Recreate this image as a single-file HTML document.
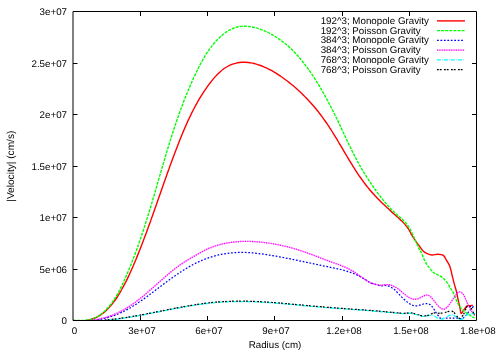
<!DOCTYPE html>
<html><head><meta charset="utf-8"><title>plot</title>
<style>
html,body{margin:0;padding:0;background:#fff;}
body{width:500px;height:350px;overflow:hidden;}
svg{display:block;will-change:transform;}
text{font-family:"Liberation Sans",sans-serif;font-size:9.75px;fill:#000;text-rendering:geometricPrecision;}
</style></head><body>
<svg width="500" height="350" viewBox="0 0 500 350">
<rect width="500" height="350" fill="#fff"/>
<defs><clipPath id="pc"><rect x="72.5" y="11" width="404.5" height="310"/></clipPath></defs>
<g fill="none" stroke-linejoin="round" clip-path="url(#pc)">
<path d="M73.00,320.50C73.50,320.56 74.98,320.79 75.98,320.88C76.97,320.97 77.97,321.02 78.97,321.04C79.97,321.05 80.97,321.03 81.97,320.98C82.97,320.92 83.97,320.82 84.96,320.69C85.95,320.56 86.94,320.39 87.91,320.18C88.89,319.97 89.86,319.73 90.82,319.44C91.78,319.16 92.73,318.84 93.66,318.48C94.59,318.12 95.52,317.72 96.42,317.29C97.31,316.85 98.20,316.37 99.06,315.87C99.92,315.36 100.76,314.81 101.58,314.24C102.40,313.66 103.19,313.06 103.97,312.42C104.74,311.79 105.50,311.13 106.23,310.45C106.96,309.77 107.67,309.07 108.37,308.35C109.06,307.63 109.74,306.89 110.39,306.13C111.05,305.38 111.69,304.61 112.31,303.83C112.93,303.04 113.54,302.25 114.13,301.44C114.73,300.64 115.30,299.82 115.87,298.99C116.43,298.17 116.99,297.34 117.53,296.50C118.07,295.66 118.60,294.81 119.12,293.95C119.65,293.10 120.16,292.24 120.66,291.38C121.17,290.51 121.66,289.65 122.15,288.77C122.64,287.90 123.12,287.02 123.59,286.14C124.07,285.26 124.53,284.37 124.99,283.49C125.45,282.60 125.90,281.70 126.35,280.81C126.79,279.91 127.23,279.01 127.67,278.11C128.10,277.21 128.53,276.31 128.95,275.40C129.37,274.49 129.79,273.58 130.20,272.67C130.62,271.76 131.02,270.85 131.43,269.93C131.83,269.02 132.23,268.10 132.63,267.19C133.03,266.27 133.43,265.35 133.82,264.43C134.21,263.51 134.60,262.59 134.99,261.67C135.38,260.74 135.76,259.82 136.14,258.90C136.53,257.97 136.91,257.05 137.28,256.12C137.66,255.19 138.04,254.27 138.41,253.34C138.78,252.41 139.15,251.48 139.52,250.55C139.89,249.62 140.25,248.69 140.62,247.76C140.98,246.83 141.35,245.90 141.71,244.96C142.07,244.03 142.42,243.10 142.78,242.16C143.14,241.23 143.49,240.29 143.85,239.36C144.20,238.42 144.55,237.48 144.90,236.55C145.25,235.61 145.60,234.67 145.95,233.73C146.29,232.80 146.64,231.86 146.99,230.92C147.33,229.98 147.67,229.04 148.02,228.10C148.36,227.16 148.70,226.22 149.04,225.28C149.38,224.34 149.72,223.40 150.06,222.46C150.39,221.51 150.73,220.57 151.07,219.63C151.40,218.69 151.74,217.75 152.08,216.80C152.41,215.86 152.74,214.92 153.08,213.98C153.41,213.03 153.74,212.09 154.08,211.15C154.41,210.20 154.74,209.26 155.07,208.32C155.40,207.37 155.74,206.43 156.07,205.48C156.40,204.54 156.73,203.60 157.06,202.65C157.39,201.71 157.72,200.76 158.05,199.82C158.38,198.87 158.71,197.93 159.04,196.99C159.37,196.04 159.70,195.10 160.03,194.15C160.36,193.21 160.69,192.26 161.02,191.32C161.35,190.38 161.68,189.43 162.01,188.49C162.34,187.54 162.67,186.60 163.00,185.66C163.33,184.71 163.66,183.77 163.99,182.82C164.33,181.88 164.66,180.94 164.99,179.99C165.33,179.05 165.66,178.11 165.99,177.17C166.33,176.22 166.66,175.28 167.00,174.34C167.34,173.40 167.67,172.45 168.01,171.51C168.35,170.57 168.69,169.63 169.03,168.69C169.37,167.75 169.71,166.81 170.05,165.87C170.39,164.93 170.73,163.99 171.08,163.05C171.42,162.11 171.77,161.17 172.11,160.23C172.46,159.29 172.81,158.36 173.16,157.42C173.50,156.48 173.86,155.55 174.21,154.61C174.56,153.67 174.91,152.74 175.27,151.80C175.62,150.87 175.98,149.93 176.34,149.00C176.70,148.06 177.06,147.13 177.42,146.20C177.78,145.27 178.14,144.33 178.51,143.40C178.88,142.47 179.24,141.54 179.61,140.61C179.98,139.68 180.35,138.75 180.73,137.83C181.10,136.90 181.48,135.97 181.86,135.05C182.23,134.12 182.62,133.20 183.00,132.27C183.39,131.35 183.77,130.43 184.16,129.51C184.56,128.59 184.95,127.67 185.35,126.75C185.75,125.83 186.15,124.92 186.55,124.00C186.96,123.09 187.37,122.17 187.78,121.26C188.20,120.35 188.62,119.45 189.04,118.54C189.47,117.63 189.89,116.73 190.33,115.83C190.76,114.93 191.20,114.03 191.64,113.13C192.09,112.23 192.54,111.34 192.99,110.45C193.45,109.56 193.91,108.67 194.37,107.79C194.84,106.90 195.31,106.02 195.79,105.14C196.27,104.27 196.76,103.39 197.25,102.52C197.74,101.65 198.24,100.78 198.75,99.92C199.25,99.06 199.76,98.20 200.28,97.34C200.80,96.49 201.33,95.64 201.87,94.79C202.40,93.95 202.94,93.10 203.49,92.27C204.04,91.43 204.60,90.60 205.16,89.78C205.73,88.95 206.30,88.13 206.88,87.32C207.46,86.50 208.05,85.69 208.64,84.89C209.24,84.09 209.85,83.29 210.46,82.50C211.07,81.71 211.69,80.92 212.32,80.15C212.95,79.37 213.59,78.60 214.25,77.85C214.90,77.09 215.57,76.34 216.25,75.61C216.93,74.88 217.63,74.16 218.34,73.46C219.06,72.76 219.79,72.08 220.54,71.42C221.30,70.76 222.07,70.12 222.86,69.52C223.66,68.91 224.47,68.33 225.31,67.78C226.15,67.24 227.01,66.72 227.89,66.25C228.77,65.77 229.67,65.34 230.59,64.94C231.50,64.55 232.44,64.19 233.39,63.88C234.34,63.56 235.31,63.29 236.28,63.06C237.25,62.83 238.24,62.65 239.23,62.51C240.22,62.37 241.22,62.28 242.21,62.24C243.21,62.19 244.22,62.19 245.21,62.23C246.21,62.27 247.21,62.35 248.21,62.46C249.20,62.57 250.19,62.73 251.17,62.91C252.16,63.09 253.13,63.30 254.10,63.54C255.07,63.78 256.04,64.05 257.00,64.34C257.95,64.63 258.90,64.95 259.85,65.28C260.79,65.62 261.72,65.97 262.65,66.35C263.58,66.72 264.50,67.12 265.41,67.53C266.32,67.94 267.22,68.37 268.12,68.82C269.01,69.26 269.90,69.72 270.78,70.20C271.66,70.67 272.53,71.17 273.40,71.67C274.26,72.17 275.12,72.69 275.97,73.21C276.82,73.74 277.66,74.28 278.50,74.83C279.34,75.37 280.17,75.93 280.99,76.50C281.82,77.07 282.63,77.64 283.45,78.23C284.26,78.81 285.07,79.40 285.87,80.00C286.67,80.60 287.47,81.20 288.26,81.81C289.05,82.43 289.83,83.05 290.61,83.68C291.39,84.30 292.16,84.94 292.93,85.58C293.70,86.22 294.46,86.87 295.22,87.52C295.97,88.18 296.72,88.84 297.47,89.51C298.21,90.18 298.95,90.85 299.68,91.54C300.41,92.22 301.14,92.91 301.86,93.60C302.58,94.29 303.29,95.00 304.00,95.70C304.71,96.41 305.41,97.12 306.10,97.84C306.80,98.56 307.49,99.28 308.17,100.01C308.86,100.74 309.53,101.48 310.21,102.22C310.88,102.96 311.54,103.71 312.20,104.46C312.86,105.21 313.51,105.97 314.16,106.74C314.81,107.50 315.45,108.27 316.08,109.04C316.72,109.81 317.34,110.59 317.97,111.37C318.59,112.16 319.21,112.95 319.82,113.74C320.43,114.53 321.03,115.33 321.63,116.13C322.22,116.93 322.82,117.74 323.40,118.55C323.99,119.36 324.57,120.18 325.14,121.00C325.71,121.82 326.28,122.64 326.84,123.47C327.41,124.29 327.96,125.13 328.51,125.96C329.07,126.79 329.61,127.63 330.16,128.47C330.70,129.31 331.24,130.15 331.77,131.00C332.31,131.84 332.84,132.69 333.37,133.54C333.89,134.39 334.42,135.24 334.94,136.10C335.46,136.95 335.98,137.81 336.50,138.66C337.01,139.52 337.53,140.38 338.04,141.24C338.55,142.09 339.06,142.95 339.57,143.81C340.08,144.68 340.59,145.54 341.10,146.40C341.61,147.26 342.12,148.12 342.62,148.98C343.13,149.85 343.64,150.71 344.15,151.57C344.65,152.43 345.16,153.29 345.67,154.15C346.18,155.02 346.69,155.88 347.20,156.74C347.71,157.60 348.23,158.45 348.74,159.31C349.26,160.17 349.77,161.03 350.29,161.88C350.81,162.73 351.33,163.59 351.86,164.44C352.39,165.29 352.91,166.14 353.45,166.99C353.98,167.83 354.51,168.68 355.06,169.52C355.60,170.36 356.14,171.20 356.69,172.04C357.24,172.87 357.79,173.71 358.35,174.53C358.91,175.36 359.47,176.19 360.04,177.01C360.61,177.83 361.19,178.65 361.77,179.47C362.35,180.28 362.94,181.09 363.53,181.89C364.13,182.70 364.73,183.50 365.34,184.29C365.95,185.09 366.56,185.87 367.19,186.66C367.81,187.44 368.44,188.22 369.08,188.99C369.72,189.76 370.36,190.52 371.02,191.28C371.67,192.03 372.33,192.78 373.00,193.53C373.67,194.27 374.35,195.01 375.03,195.74C375.71,196.47 376.40,197.19 377.10,197.91C377.79,198.63 378.49,199.34 379.20,200.05C379.91,200.76 380.62,201.47 381.33,202.17C382.05,202.87 382.77,203.56 383.49,204.25C384.21,204.94 384.94,205.63 385.67,206.32C386.40,207.00 387.13,207.68 387.86,208.36C388.60,209.04 389.33,209.72 390.07,210.39C390.81,211.07 391.55,211.74 392.29,212.41C393.03,213.08 393.78,213.75 394.52,214.42C395.26,215.09 396.01,215.75 396.75,216.43C397.49,217.10 398.24,217.76 398.97,218.44C399.71,219.12 400.44,219.81 401.15,220.50C401.87,221.20 402.58,221.91 403.27,222.63C403.96,223.36 404.63,224.10 405.28,224.86C405.93,225.62 406.56,226.40 407.16,227.20C407.76,228.00 408.33,228.82 408.86,229.67C409.39,230.51 409.89,231.38 410.35,232.27C410.81,233.16 410.59,233.35 411.60,235.00C412.61,236.65 415.00,240.20 416.40,242.20C417.80,244.20 418.90,245.53 420.00,247.00C421.10,248.47 421.80,249.90 423.00,251.00C424.20,252.10 425.70,252.93 427.20,253.60C428.70,254.27 430.20,254.90 432.00,255.00C433.80,255.10 436.10,254.13 438.00,254.20C439.90,254.27 442.00,254.40 443.40,255.40C444.80,256.40 445.33,258.40 446.40,260.20C447.47,262.00 448.90,263.90 449.80,266.20C450.70,268.50 451.07,271.10 451.80,274.00C452.53,276.90 453.40,280.60 454.20,283.60C455.00,286.60 456.07,289.87 456.60,292.00C457.13,294.13 456.83,293.70 457.40,296.40C457.97,299.10 459.37,305.33 460.00,308.20C460.63,311.07 460.58,313.27 461.20,313.60C461.82,313.93 462.77,311.47 463.70,310.20C464.63,308.93 465.83,306.77 466.80,306.00C467.77,305.23 468.48,305.68 469.50,305.60C470.52,305.52 472.33,305.52 472.90,305.50" stroke="#ff0000" stroke-width="1.4"/>
<path d="M73.00,320.50C73.50,320.49 75.01,320.45 76.01,320.44C77.01,320.42 78.02,320.44 79.02,320.43C80.02,320.43 81.03,320.43 82.03,320.40C83.03,320.38 84.04,320.35 85.04,320.27C86.04,320.20 87.04,320.11 88.03,319.95C89.02,319.80 90.01,319.62 90.98,319.36C91.95,319.11 92.91,318.79 93.84,318.42C94.77,318.04 95.67,317.60 96.55,317.13C97.44,316.65 98.29,316.12 99.13,315.56C99.96,315.01 100.77,314.40 101.55,313.78C102.34,313.16 103.10,312.51 103.85,311.83C104.59,311.16 105.32,310.47 106.02,309.75C106.73,309.04 107.41,308.31 108.08,307.56C108.75,306.81 109.40,306.04 110.03,305.26C110.66,304.48 111.27,303.68 111.86,302.88C112.46,302.07 113.03,301.24 113.59,300.41C114.15,299.58 114.70,298.74 115.23,297.88C115.76,297.03 116.27,296.17 116.78,295.30C117.28,294.44 117.77,293.56 118.25,292.68C118.73,291.80 119.19,290.91 119.65,290.01C120.11,289.12 120.56,288.22 121.00,287.32C121.44,286.42 121.87,285.52 122.30,284.61C122.73,283.70 123.15,282.79 123.56,281.88C123.98,280.96 124.39,280.05 124.80,279.13C125.21,278.22 125.62,277.30 126.02,276.38C126.42,275.46 126.82,274.54 127.21,273.62C127.61,272.69 128.00,271.77 128.39,270.84C128.78,269.92 129.16,268.99 129.55,268.06C129.93,267.14 130.31,266.21 130.68,265.28C131.06,264.35 131.43,263.41 131.80,262.48C132.17,261.55 132.53,260.61 132.90,259.68C133.26,258.74 133.62,257.81 133.98,256.87C134.34,255.93 134.69,254.99 135.04,254.05C135.39,253.11 135.74,252.17 136.09,251.23C136.44,250.29 136.78,249.35 137.12,248.40C137.46,247.46 137.80,246.51 138.14,245.57C138.47,244.62 138.81,243.68 139.14,242.73C139.47,241.78 139.80,240.83 140.12,239.88C140.45,238.94 140.77,237.99 141.10,237.04C141.42,236.09 141.74,235.13 142.06,234.18C142.37,233.23 142.69,232.28 143.00,231.33C143.32,230.37 143.63,229.42 143.94,228.46C144.25,227.51 144.56,226.55 144.86,225.60C145.17,224.64 145.48,223.69 145.78,222.73C146.08,221.77 146.38,220.82 146.68,219.86C146.98,218.90 147.28,217.94 147.58,216.99C147.88,216.03 148.17,215.07 148.47,214.11C148.76,213.15 149.05,212.19 149.35,211.23C149.64,210.27 149.93,209.31 150.22,208.35C150.51,207.39 150.80,206.43 151.08,205.47C151.37,204.50 151.66,203.54 151.94,202.58C152.23,201.62 152.51,200.66 152.80,199.69C153.08,198.73 153.36,197.77 153.65,196.81C153.93,195.84 154.21,194.88 154.49,193.92C154.77,192.95 155.06,191.99 155.34,191.03C155.62,190.06 155.90,189.10 156.18,188.14C156.46,187.17 156.74,186.21 157.02,185.24C157.30,184.28 157.57,183.32 157.85,182.35C158.13,181.39 158.41,180.43 158.69,179.46C158.97,178.50 159.25,177.53 159.53,176.57C159.81,175.61 160.09,174.64 160.37,173.68C160.64,172.71 160.92,171.75 161.20,170.79C161.49,169.82 161.77,168.86 162.05,167.90C162.33,166.93 162.61,165.97 162.89,165.01C163.17,164.04 163.46,163.08 163.74,162.12C164.02,161.16 164.31,160.19 164.59,159.23C164.88,158.27 165.16,157.31 165.45,156.35C165.73,155.38 166.02,154.42 166.31,153.46C166.60,152.50 166.89,151.54 167.18,150.58C167.47,149.62 167.76,148.66 168.05,147.70C168.35,146.74 168.64,145.78 168.93,144.82C169.23,143.86 169.53,142.90 169.83,141.94C170.12,140.99 170.42,140.03 170.72,139.07C171.03,138.11 171.33,137.16 171.63,136.20C171.94,135.25 172.24,134.29 172.55,133.33C172.86,132.38 173.17,131.43 173.48,130.47C173.79,129.52 174.10,128.56 174.42,127.61C174.74,126.66 175.05,125.71 175.37,124.76C175.69,123.80 176.01,122.85 176.34,121.90C176.66,120.95 176.99,120.01 177.31,119.06C177.64,118.11 177.97,117.16 178.31,116.21C178.64,115.27 178.97,114.32 179.31,113.38C179.65,112.43 179.99,111.49 180.33,110.54C180.68,109.60 181.02,108.66 181.37,107.72C181.72,106.78 182.07,105.84 182.42,104.90C182.78,103.96 183.13,103.02 183.49,102.08C183.85,101.15 184.21,100.21 184.58,99.28C184.95,98.34 185.32,97.41 185.69,96.48C186.06,95.55 186.43,94.62 186.81,93.69C187.19,92.76 187.57,91.83 187.96,90.90C188.34,89.98 188.73,89.05 189.13,88.13C189.52,87.20 189.91,86.28 190.31,85.36C190.71,84.44 191.12,83.52 191.52,82.61C191.93,81.69 192.34,80.77 192.76,79.86C193.17,78.95 193.59,78.03 194.01,77.12C194.44,76.21 194.86,75.30 195.29,74.40C195.73,73.49 196.16,72.59 196.60,71.69C197.04,70.78 197.48,69.88 197.93,68.99C198.38,68.09 198.83,67.19 199.29,66.30C199.75,65.41 200.21,64.52 200.68,63.63C201.16,62.75 201.63,61.86 202.12,60.99C202.61,60.11 203.10,59.23 203.60,58.37C204.11,57.50 204.62,56.64 205.14,55.78C205.67,54.92 206.20,54.07 206.75,53.23C207.29,52.39 207.85,51.55 208.42,50.73C208.99,49.90 209.57,49.08 210.16,48.27C210.75,47.46 211.36,46.66 211.98,45.88C212.60,45.09 213.23,44.31 213.88,43.54C214.52,42.77 215.18,42.01 215.86,41.27C216.53,40.53 217.22,39.80 217.92,39.08C218.63,38.37 219.35,37.67 220.08,36.98C220.82,36.30 221.57,35.64 222.34,34.99C223.11,34.35 223.90,33.73 224.70,33.13C225.51,32.53 226.33,31.96 227.18,31.42C228.02,30.88 228.89,30.36 229.77,29.89C230.65,29.41 231.56,28.97 232.48,28.58C233.40,28.18 234.34,27.82 235.30,27.52C236.25,27.22 237.23,26.97 238.21,26.77C239.19,26.57 240.19,26.43 241.19,26.34C242.19,26.24 243.19,26.20 244.20,26.20C245.20,26.19 246.20,26.24 247.20,26.32C248.20,26.40 249.20,26.52 250.19,26.67C251.18,26.82 252.17,27.01 253.15,27.22C254.13,27.43 255.11,27.68 256.07,27.94C257.04,28.21 258.00,28.51 258.95,28.82C259.90,29.13 260.85,29.47 261.79,29.83C262.73,30.18 263.66,30.56 264.58,30.95C265.50,31.35 266.42,31.76 267.33,32.19C268.23,32.62 269.13,33.07 270.02,33.53C270.91,33.99 271.79,34.48 272.66,34.97C273.53,35.47 274.40,35.98 275.25,36.51C276.10,37.04 276.95,37.58 277.78,38.14C278.62,38.70 279.44,39.27 280.26,39.85C281.07,40.44 281.88,41.04 282.67,41.65C283.47,42.26 284.25,42.88 285.03,43.52C285.81,44.15 286.58,44.80 287.33,45.46C288.09,46.12 288.84,46.79 289.58,47.46C290.32,48.14 291.05,48.83 291.77,49.53C292.48,50.23 293.20,50.94 293.90,51.66C294.60,52.38 295.29,53.10 295.97,53.84C296.66,54.57 297.33,55.32 298.00,56.07C298.66,56.82 299.32,57.58 299.97,58.34C300.62,59.11 301.26,59.88 301.89,60.66C302.53,61.43 303.15,62.22 303.77,63.01C304.39,63.80 305.00,64.60 305.60,65.40C306.21,66.20 306.80,67.01 307.39,67.82C307.99,68.63 308.57,69.44 309.15,70.26C309.73,71.08 310.30,71.91 310.87,72.74C311.43,73.56 312.00,74.39 312.55,75.23C313.11,76.06 313.66,76.90 314.21,77.74C314.75,78.59 315.29,79.43 315.83,80.28C316.37,81.13 316.90,81.98 317.43,82.83C317.95,83.69 318.47,84.54 318.99,85.40C319.51,86.26 320.02,87.12 320.53,87.99C321.04,88.85 321.55,89.72 322.05,90.59C322.55,91.46 323.04,92.33 323.54,93.21C324.03,94.08 324.52,94.96 325.00,95.84C325.49,96.71 325.97,97.59 326.45,98.48C326.93,99.36 327.40,100.24 327.87,101.13C328.35,102.01 328.81,102.90 329.28,103.79C329.74,104.68 330.21,105.57 330.67,106.46C331.13,107.35 331.58,108.25 332.04,109.14C332.49,110.04 332.94,110.93 333.39,111.83C333.84,112.73 334.29,113.63 334.73,114.53C335.18,115.43 335.62,116.33 336.06,117.23C336.50,118.13 336.94,119.03 337.38,119.94C337.81,120.84 338.25,121.74 338.68,122.65C339.11,123.55 339.55,124.46 339.98,125.37C340.41,126.27 340.84,127.18 341.27,128.09C341.70,128.99 342.12,129.90 342.55,130.81C342.98,131.72 343.40,132.63 343.83,133.53C344.25,134.44 344.68,135.35 345.10,136.26C345.53,137.17 345.96,138.08 346.38,138.99C346.81,139.89 347.24,140.80 347.67,141.71C348.09,142.62 348.52,143.52 348.96,144.43C349.39,145.34 349.82,146.24 350.26,147.14C350.69,148.05 351.13,148.95 351.58,149.85C352.02,150.75 352.46,151.65 352.91,152.55C353.36,153.45 353.81,154.34 354.27,155.24C354.72,156.13 355.18,157.02 355.65,157.91C356.11,158.80 356.58,159.69 357.05,160.57C357.53,161.46 358.01,162.34 358.49,163.22C358.98,164.10 359.47,164.97 359.96,165.85C360.46,166.72 360.96,167.59 361.46,168.45C361.97,169.32 362.48,170.18 363.00,171.04C363.52,171.90 364.04,172.76 364.57,173.61C365.09,174.47 365.62,175.32 366.16,176.17C366.70,177.02 367.24,177.86 367.78,178.70C368.33,179.54 368.88,180.38 369.44,181.22C369.99,182.06 370.55,182.89 371.11,183.72C371.68,184.55 372.25,185.38 372.82,186.20C373.39,187.02 373.97,187.85 374.55,188.66C375.13,189.48 375.71,190.30 376.30,191.11C376.89,191.92 377.48,192.73 378.08,193.54C378.68,194.34 379.28,195.15 379.89,195.94C380.50,196.74 381.12,197.53 381.74,198.32C382.36,199.11 382.99,199.89 383.63,200.67C384.26,201.44 384.91,202.21 385.56,202.97C386.21,203.74 386.87,204.49 387.54,205.24C388.21,205.99 388.88,206.73 389.57,207.46C390.26,208.19 390.95,208.92 391.66,209.63C392.36,210.34 393.08,211.05 393.81,211.74C394.53,212.44 395.27,213.12 396.01,213.79C396.76,214.46 397.51,215.12 398.27,215.78C399.02,216.45 399.78,217.10 400.53,217.77C401.28,218.44 402.03,219.11 402.75,219.80C403.48,220.49 404.19,221.20 404.88,221.93C405.56,222.67 406.22,223.42 406.84,224.21C407.46,225.00 408.04,225.82 408.59,226.66C409.14,227.50 409.65,228.36 410.14,229.24C410.63,230.11 411.09,231.01 411.53,231.91C411.98,232.81 412.39,233.72 412.81,234.64C413.22,235.55 413.30,235.84 414.00,237.40C414.70,238.96 416.10,242.00 417.00,244.00C417.90,246.00 418.70,248.00 419.40,249.40C420.10,250.80 420.30,250.50 421.20,252.40C422.10,254.30 423.50,258.30 424.80,260.80C426.10,263.30 427.60,265.50 429.00,267.40C430.40,269.30 431.70,270.93 433.20,272.20C434.70,273.47 436.40,274.07 438.00,275.00C439.60,275.93 441.30,276.57 442.80,277.80C444.30,279.03 445.70,280.63 447.00,282.40C448.30,284.17 449.62,286.82 450.60,288.40C451.58,289.98 452.05,290.18 452.90,291.90C453.75,293.62 454.67,296.42 455.70,298.70C456.73,300.98 457.85,303.63 459.10,305.60C460.35,307.57 461.85,309.20 463.20,310.50C464.55,311.80 465.73,312.38 467.20,313.40C468.67,314.42 470.77,315.87 472.00,316.60C473.23,317.33 474.17,317.60 474.60,317.80" stroke="#00ff00" stroke-width="1.4" stroke-dasharray="3 1.1"/>
<path d="M73.00,320.50C73.50,320.54 75.01,320.68 76.01,320.74C77.02,320.81 78.03,320.86 79.03,320.89C80.04,320.93 81.05,320.95 82.05,320.95C83.06,320.95 84.07,320.94 85.08,320.91C86.08,320.88 87.09,320.84 88.10,320.78C89.10,320.72 90.11,320.64 91.11,320.55C92.12,320.46 93.12,320.36 94.12,320.23C95.12,320.11 96.12,319.98 97.11,319.82C98.11,319.67 99.10,319.50 100.09,319.31C101.08,319.13 102.07,318.93 103.05,318.71C104.04,318.49 105.02,318.26 106.00,318.01C106.97,317.76 107.94,317.49 108.91,317.21C109.88,316.93 110.84,316.63 111.80,316.31C112.75,316.00 113.71,315.67 114.65,315.32C115.60,314.97 116.54,314.60 117.47,314.22C118.40,313.84 119.32,313.44 120.24,313.02C121.16,312.61 122.07,312.18 122.98,311.73C123.88,311.29 124.78,310.83 125.67,310.36C126.56,309.89 127.45,309.41 128.33,308.92C129.21,308.42 130.08,307.92 130.94,307.40C131.81,306.89 132.67,306.36 133.52,305.83C134.38,305.30 135.23,304.75 136.07,304.20C136.92,303.65 137.76,303.09 138.59,302.53C139.43,301.96 140.26,301.39 141.08,300.82C141.91,300.24 142.73,299.66 143.55,299.07C144.37,298.48 145.18,297.89 146.00,297.30C146.81,296.70 147.62,296.11 148.43,295.50C149.24,294.90 150.05,294.30 150.85,293.70C151.66,293.09 152.46,292.48 153.27,291.88C154.07,291.27 154.88,290.66 155.68,290.05C156.48,289.44 157.28,288.83 158.09,288.22C158.89,287.61 159.69,287.00 160.50,286.40C161.30,285.79 162.10,285.18 162.91,284.58C163.71,283.97 164.52,283.36 165.33,282.76C166.14,282.16 166.94,281.56 167.76,280.96C168.57,280.37 169.38,279.77 170.20,279.18C171.01,278.59 171.83,278.00 172.65,277.42C173.47,276.83 174.30,276.25 175.12,275.68C175.95,275.10 176.78,274.53 177.62,273.97C178.45,273.40 179.29,272.84 180.13,272.29C180.97,271.73 181.82,271.19 182.67,270.65C183.52,270.11 184.38,269.57 185.24,269.05C186.10,268.52 186.96,268.01 187.83,267.50C188.70,266.99 189.58,266.49 190.46,266.00C191.34,265.51 192.22,265.03 193.11,264.56C194.01,264.09 194.90,263.63 195.80,263.18C196.71,262.73 197.62,262.29 198.53,261.87C199.44,261.44 200.36,261.03 201.29,260.63C202.21,260.23 203.14,259.84 204.08,259.47C205.02,259.10 205.96,258.74 206.90,258.40C207.85,258.05 208.80,257.72 209.76,257.41C210.72,257.10 211.68,256.80 212.65,256.51C213.61,256.23 214.59,255.96 215.56,255.70C216.53,255.45 217.51,255.21 218.50,254.98C219.48,254.75 220.46,254.54 221.45,254.35C222.44,254.15 223.43,253.97 224.42,253.80C225.42,253.63 226.42,253.48 227.41,253.34C228.41,253.21 229.41,253.08 230.41,252.98C231.42,252.87 232.42,252.78 233.42,252.70C234.43,252.62 235.43,252.56 236.44,252.51C237.45,252.46 238.45,252.43 239.46,252.41C240.47,252.40 241.48,252.39 242.49,252.40C243.49,252.41 244.50,252.44 245.51,252.48C246.51,252.51 247.52,252.56 248.53,252.62C249.53,252.68 250.54,252.75 251.54,252.83C252.55,252.91 253.55,253.00 254.55,253.10C255.56,253.20 256.56,253.31 257.56,253.43C258.56,253.55 259.56,253.67 260.56,253.80C261.56,253.93 262.56,254.07 263.55,254.21C264.55,254.36 265.55,254.51 266.54,254.66C267.54,254.81 268.53,254.97 269.53,255.13C270.52,255.30 271.52,255.46 272.51,255.63C273.50,255.80 274.50,255.97 275.49,256.14C276.48,256.32 277.47,256.49 278.47,256.67C279.46,256.85 280.45,257.04 281.44,257.22C282.43,257.41 283.42,257.59 284.41,257.78C285.40,257.97 286.39,258.16 287.38,258.36C288.37,258.55 289.36,258.75 290.34,258.94C291.33,259.14 292.32,259.34 293.31,259.54C294.29,259.74 295.28,259.94 296.27,260.15C297.26,260.35 298.24,260.55 299.23,260.76C300.22,260.96 301.20,261.17 302.19,261.38C303.17,261.58 304.16,261.79 305.15,262.00C306.13,262.21 307.12,262.42 308.10,262.63C309.09,262.84 310.08,263.05 311.06,263.26C312.05,263.47 313.03,263.68 314.02,263.89C315.00,264.10 315.99,264.31 316.97,264.51C317.96,264.72 318.95,264.93 319.93,265.14C320.92,265.35 321.90,265.56 322.89,265.76C323.88,265.97 324.86,266.18 325.85,266.38C326.84,266.59 327.82,266.79 328.81,266.99C329.80,267.19 330.79,267.39 331.77,267.60C332.76,267.80 333.75,268.00 334.73,268.20C335.72,268.41 336.71,268.61 337.69,268.83C338.68,269.05 339.66,269.27 340.64,269.50C341.62,269.73 342.60,269.97 343.57,270.23C344.55,270.49 345.52,270.75 346.49,271.04C347.45,271.33 348.41,271.63 349.37,271.95C350.32,272.27 351.27,272.61 352.21,272.98C353.15,273.34 354.08,273.73 355.00,274.13C355.93,274.53 356.84,274.96 357.75,275.40C358.66,275.84 359.55,276.29 360.44,276.77C361.34,277.24 362.22,277.72 363.09,278.22C363.97,278.72 364.84,279.23 365.70,279.75C366.56,280.28 367.42,280.81 368.27,281.35C369.12,281.89 368.84,282.28 370.80,283.00C372.76,283.73 377.67,285.30 380.00,285.70C382.33,286.10 383.20,285.28 384.80,285.40C386.40,285.52 388.00,285.70 389.60,286.40C391.20,287.10 392.80,288.27 394.40,289.60C396.00,290.93 397.60,292.80 399.20,294.40C400.80,296.00 402.40,297.73 404.00,299.20C405.60,300.67 407.20,302.13 408.80,303.20C410.40,304.27 412.00,305.20 413.60,305.60C415.20,306.00 416.80,305.87 418.40,305.60C420.00,305.33 421.70,304.33 423.20,304.00C424.70,303.67 426.20,303.47 427.40,303.60C428.60,303.73 429.68,304.38 430.40,304.80C431.12,305.22 431.00,305.22 431.70,306.10C432.40,306.98 433.65,308.70 434.60,310.10C435.55,311.50 436.35,313.07 437.40,314.50C438.45,315.93 439.65,318.10 440.90,318.70C442.15,319.30 443.57,318.20 444.90,318.10C446.23,318.00 447.57,318.10 448.90,318.10C450.23,318.10 451.48,318.10 452.90,318.10C454.32,318.10 456.07,318.00 457.40,318.10C458.73,318.20 459.95,318.70 460.90,318.70C461.85,318.70 462.15,318.77 463.10,318.10C464.05,317.43 465.55,315.93 466.60,314.70C467.65,313.47 468.55,311.75 469.40,310.70C470.25,309.65 470.93,309.17 471.70,308.40C472.47,307.63 473.62,306.48 474.00,306.10" stroke="#0000ff" stroke-width="1.25" stroke-dasharray="1.75 1.7"/>
<path d="M73.00,320.50C73.50,320.54 75.01,320.68 76.01,320.74C77.02,320.80 78.02,320.85 79.03,320.88C80.04,320.91 81.05,320.92 82.05,320.92C83.06,320.91 84.07,320.89 85.07,320.85C86.08,320.81 87.09,320.75 88.09,320.67C89.10,320.60 90.10,320.51 91.10,320.40C92.10,320.29 93.10,320.16 94.10,320.01C95.10,319.87 96.09,319.70 97.08,319.52C98.07,319.34 99.06,319.15 100.04,318.93C101.03,318.71 102.01,318.48 102.98,318.23C103.96,317.98 104.93,317.71 105.90,317.43C106.86,317.14 107.82,316.84 108.78,316.51C109.73,316.19 110.68,315.85 111.63,315.50C112.57,315.14 113.50,314.77 114.43,314.38C115.36,313.99 116.28,313.58 117.19,313.15C118.11,312.73 119.01,312.28 119.91,311.82C120.81,311.37 121.70,310.89 122.58,310.41C123.46,309.92 124.33,309.42 125.20,308.90C126.07,308.39 126.93,307.86 127.78,307.33C128.63,306.79 129.48,306.24 130.31,305.68C131.15,305.12 131.98,304.55 132.81,303.97C133.63,303.40 134.45,302.81 135.26,302.21C136.08,301.62 136.88,301.01 137.68,300.40C138.48,299.79 139.28,299.17 140.07,298.55C140.86,297.92 141.65,297.29 142.43,296.66C143.21,296.02 143.99,295.38 144.76,294.74C145.54,294.09 146.31,293.44 147.07,292.79C147.84,292.14 148.60,291.48 149.36,290.82C150.13,290.16 150.88,289.50 151.64,288.83C152.40,288.17 153.15,287.50 153.91,286.83C154.66,286.16 155.41,285.49 156.17,284.82C156.92,284.15 157.67,283.48 158.42,282.81C159.18,282.14 159.93,281.47 160.68,280.80C161.43,280.14 162.19,279.47 162.94,278.80C163.70,278.13 164.46,277.47 165.22,276.81C165.97,276.15 166.74,275.48 167.50,274.83C168.26,274.17 169.03,273.52 169.80,272.87C170.57,272.22 171.35,271.58 172.13,270.94C172.91,270.30 173.69,269.67 174.49,269.05C175.28,268.43 176.07,267.81 176.88,267.20C177.68,266.60 178.50,266.00 179.32,265.42C180.14,264.83 180.97,264.26 181.80,263.70C182.64,263.14 183.49,262.59 184.33,262.05C185.18,261.51 186.04,260.98 186.90,260.45C187.76,259.92 188.62,259.41 189.49,258.89C190.35,258.38 191.22,257.87 192.09,257.36C192.96,256.85 193.84,256.35 194.71,255.84C195.58,255.34 196.45,254.83 197.33,254.33C198.20,253.83 199.08,253.33 199.96,252.84C200.84,252.36 201.72,251.87 202.61,251.40C203.50,250.93 204.40,250.47 205.30,250.02C206.21,249.58 207.12,249.15 208.04,248.74C208.96,248.33 209.89,247.94 210.82,247.57C211.76,247.20 212.70,246.84 213.65,246.51C214.60,246.17 215.56,245.86 216.52,245.56C217.48,245.26 218.45,244.98 219.42,244.71C220.40,244.45 221.37,244.20 222.35,243.97C223.33,243.74 224.32,243.53 225.31,243.33C226.30,243.13 227.29,242.95 228.28,242.79C229.27,242.62 230.27,242.47 231.27,242.34C232.27,242.20 233.27,242.09 234.27,241.98C235.27,241.88 236.28,241.78 237.28,241.71C238.28,241.63 239.29,241.57 240.30,241.52C241.30,241.47 242.31,241.43 243.32,241.41C244.32,241.38 245.33,241.37 246.34,241.37C247.35,241.37 248.35,241.38 249.36,241.41C250.37,241.43 251.37,241.46 252.38,241.51C253.39,241.55 254.39,241.61 255.40,241.68C256.40,241.74 257.41,241.82 258.41,241.90C259.42,241.99 260.42,242.09 261.42,242.19C262.42,242.30 263.42,242.41 264.42,242.53C265.42,242.66 266.42,242.79 267.42,242.93C268.42,243.07 269.41,243.22 270.41,243.37C271.40,243.53 272.40,243.69 273.39,243.86C274.38,244.03 275.38,244.21 276.37,244.40C277.36,244.59 278.34,244.78 279.33,244.99C280.32,245.19 281.30,245.40 282.29,245.62C283.27,245.84 284.25,246.06 285.23,246.30C286.21,246.53 287.19,246.77 288.17,247.02C289.14,247.27 290.12,247.53 291.09,247.79C292.06,248.05 293.03,248.33 294.00,248.60C294.97,248.88 295.93,249.17 296.90,249.46C297.86,249.75 298.82,250.05 299.78,250.36C300.74,250.66 301.70,250.98 302.66,251.30C303.61,251.62 304.56,251.94 305.52,252.28C306.47,252.61 307.41,252.95 308.36,253.29C309.31,253.64 310.25,253.99 311.20,254.34C312.14,254.70 313.08,255.06 314.02,255.42C314.96,255.78 315.90,256.14 316.84,256.50C317.78,256.87 318.72,257.23 319.66,257.60C320.60,257.96 321.54,258.33 322.48,258.69C323.42,259.05 324.36,259.41 325.30,259.77C326.24,260.13 327.18,260.48 328.13,260.83C329.07,261.18 330.02,261.53 330.97,261.87C331.91,262.21 332.86,262.55 333.81,262.88C334.76,263.22 335.71,263.56 336.66,263.90C337.61,264.24 338.56,264.58 339.50,264.94C340.44,265.29 341.38,265.65 342.32,266.03C343.25,266.40 344.18,266.79 345.11,267.19C346.03,267.60 346.95,268.01 347.85,268.46C348.76,268.90 349.65,269.36 350.54,269.84C351.42,270.33 352.29,270.84 353.15,271.37C354.00,271.90 354.84,272.45 355.68,273.01C356.52,273.57 357.34,274.15 358.17,274.73C358.99,275.31 359.81,275.90 360.63,276.48C361.46,277.06 362.27,277.65 363.10,278.22C363.93,278.79 364.76,279.37 365.60,279.92C366.45,280.47 367.30,281.01 368.16,281.53C369.03,282.04 368.83,282.39 370.80,283.00C372.77,283.61 377.67,284.90 380.00,285.20C382.33,285.50 383.20,284.87 384.80,284.80C386.40,284.73 388.00,284.50 389.60,284.80C391.20,285.10 392.80,285.80 394.40,286.60C396.00,287.40 397.60,288.40 399.20,289.60C400.80,290.80 402.40,292.50 404.00,293.80C405.60,295.10 407.20,296.50 408.80,297.40C410.40,298.30 412.00,299.00 413.60,299.20C415.20,299.40 416.80,299.10 418.40,298.60C420.00,298.10 421.70,296.80 423.20,296.20C424.70,295.60 426.20,294.93 427.40,295.00C428.60,295.07 429.40,295.78 430.40,296.60C431.40,297.42 432.32,298.60 433.40,299.90C434.48,301.20 435.75,303.07 436.90,304.40C438.05,305.73 439.17,307.10 440.30,307.90C441.43,308.70 442.57,309.30 443.70,309.20C444.83,309.10 445.95,308.38 447.10,307.30C448.25,306.22 449.45,304.32 450.60,302.70C451.75,301.08 452.95,299.12 454.00,297.60C455.05,296.08 455.92,294.55 456.90,293.60C457.88,292.65 458.87,291.82 459.90,291.90C460.93,291.98 462.18,292.97 463.10,294.10C464.02,295.23 464.67,297.15 465.40,298.70C466.13,300.25 466.80,301.95 467.50,303.40C468.20,304.85 468.85,306.00 469.60,307.40C470.35,308.80 471.20,310.50 472.00,311.80C472.80,313.10 474.00,314.63 474.40,315.20" stroke="#ff00ff" stroke-opacity="0.28" stroke-width="1.4"/>
<path d="M73.00,320.50C73.50,320.54 75.01,320.68 76.01,320.74C77.02,320.80 78.02,320.85 79.03,320.88C80.04,320.91 81.05,320.92 82.05,320.92C83.06,320.91 84.07,320.89 85.07,320.85C86.08,320.81 87.09,320.75 88.09,320.67C89.10,320.60 90.10,320.51 91.10,320.40C92.10,320.29 93.10,320.16 94.10,320.01C95.10,319.87 96.09,319.70 97.08,319.52C98.07,319.34 99.06,319.15 100.04,318.93C101.03,318.71 102.01,318.48 102.98,318.23C103.96,317.98 104.93,317.71 105.90,317.43C106.86,317.14 107.82,316.84 108.78,316.51C109.73,316.19 110.68,315.85 111.63,315.50C112.57,315.14 113.50,314.77 114.43,314.38C115.36,313.99 116.28,313.58 117.19,313.15C118.11,312.73 119.01,312.28 119.91,311.82C120.81,311.37 121.70,310.89 122.58,310.41C123.46,309.92 124.33,309.42 125.20,308.90C126.07,308.39 126.93,307.86 127.78,307.33C128.63,306.79 129.48,306.24 130.31,305.68C131.15,305.12 131.98,304.55 132.81,303.97C133.63,303.40 134.45,302.81 135.26,302.21C136.08,301.62 136.88,301.01 137.68,300.40C138.48,299.79 139.28,299.17 140.07,298.55C140.86,297.92 141.65,297.29 142.43,296.66C143.21,296.02 143.99,295.38 144.76,294.74C145.54,294.09 146.31,293.44 147.07,292.79C147.84,292.14 148.60,291.48 149.36,290.82C150.13,290.16 150.88,289.50 151.64,288.83C152.40,288.17 153.15,287.50 153.91,286.83C154.66,286.16 155.41,285.49 156.17,284.82C156.92,284.15 157.67,283.48 158.42,282.81C159.18,282.14 159.93,281.47 160.68,280.80C161.43,280.14 162.19,279.47 162.94,278.80C163.70,278.13 164.46,277.47 165.22,276.81C165.97,276.15 166.74,275.48 167.50,274.83C168.26,274.17 169.03,273.52 169.80,272.87C170.57,272.22 171.35,271.58 172.13,270.94C172.91,270.30 173.69,269.67 174.49,269.05C175.28,268.43 176.07,267.81 176.88,267.20C177.68,266.60 178.50,266.00 179.32,265.42C180.14,264.83 180.97,264.26 181.80,263.70C182.64,263.14 183.49,262.59 184.33,262.05C185.18,261.51 186.04,260.98 186.90,260.45C187.76,259.92 188.62,259.41 189.49,258.89C190.35,258.38 191.22,257.87 192.09,257.36C192.96,256.85 193.84,256.35 194.71,255.84C195.58,255.34 196.45,254.83 197.33,254.33C198.20,253.83 199.08,253.33 199.96,252.84C200.84,252.36 201.72,251.87 202.61,251.40C203.50,250.93 204.40,250.47 205.30,250.02C206.21,249.58 207.12,249.15 208.04,248.74C208.96,248.33 209.89,247.94 210.82,247.57C211.76,247.20 212.70,246.84 213.65,246.51C214.60,246.17 215.56,245.86 216.52,245.56C217.48,245.26 218.45,244.98 219.42,244.71C220.40,244.45 221.37,244.20 222.35,243.97C223.33,243.74 224.32,243.53 225.31,243.33C226.30,243.13 227.29,242.95 228.28,242.79C229.27,242.62 230.27,242.47 231.27,242.34C232.27,242.20 233.27,242.09 234.27,241.98C235.27,241.88 236.28,241.78 237.28,241.71C238.28,241.63 239.29,241.57 240.30,241.52C241.30,241.47 242.31,241.43 243.32,241.41C244.32,241.38 245.33,241.37 246.34,241.37C247.35,241.37 248.35,241.38 249.36,241.41C250.37,241.43 251.37,241.46 252.38,241.51C253.39,241.55 254.39,241.61 255.40,241.68C256.40,241.74 257.41,241.82 258.41,241.90C259.42,241.99 260.42,242.09 261.42,242.19C262.42,242.30 263.42,242.41 264.42,242.53C265.42,242.66 266.42,242.79 267.42,242.93C268.42,243.07 269.41,243.22 270.41,243.37C271.40,243.53 272.40,243.69 273.39,243.86C274.38,244.03 275.38,244.21 276.37,244.40C277.36,244.59 278.34,244.78 279.33,244.99C280.32,245.19 281.30,245.40 282.29,245.62C283.27,245.84 284.25,246.06 285.23,246.30C286.21,246.53 287.19,246.77 288.17,247.02C289.14,247.27 290.12,247.53 291.09,247.79C292.06,248.05 293.03,248.33 294.00,248.60C294.97,248.88 295.93,249.17 296.90,249.46C297.86,249.75 298.82,250.05 299.78,250.36C300.74,250.66 301.70,250.98 302.66,251.30C303.61,251.62 304.56,251.94 305.52,252.28C306.47,252.61 307.41,252.95 308.36,253.29C309.31,253.64 310.25,253.99 311.20,254.34C312.14,254.70 313.08,255.06 314.02,255.42C314.96,255.78 315.90,256.14 316.84,256.50C317.78,256.87 318.72,257.23 319.66,257.60C320.60,257.96 321.54,258.33 322.48,258.69C323.42,259.05 324.36,259.41 325.30,259.77C326.24,260.13 327.18,260.48 328.13,260.83C329.07,261.18 330.02,261.53 330.97,261.87C331.91,262.21 332.86,262.55 333.81,262.88C334.76,263.22 335.71,263.56 336.66,263.90C337.61,264.24 338.56,264.58 339.50,264.94C340.44,265.29 341.38,265.65 342.32,266.03C343.25,266.40 344.18,266.79 345.11,267.19C346.03,267.60 346.95,268.01 347.85,268.46C348.76,268.90 349.65,269.36 350.54,269.84C351.42,270.33 352.29,270.84 353.15,271.37C354.00,271.90 354.84,272.45 355.68,273.01C356.52,273.57 357.34,274.15 358.17,274.73C358.99,275.31 359.81,275.90 360.63,276.48C361.46,277.06 362.27,277.65 363.10,278.22C363.93,278.79 364.76,279.37 365.60,279.92C366.45,280.47 367.30,281.01 368.16,281.53C369.03,282.04 368.83,282.39 370.80,283.00C372.77,283.61 377.67,284.90 380.00,285.20C382.33,285.50 383.20,284.87 384.80,284.80C386.40,284.73 388.00,284.50 389.60,284.80C391.20,285.10 392.80,285.80 394.40,286.60C396.00,287.40 397.60,288.40 399.20,289.60C400.80,290.80 402.40,292.50 404.00,293.80C405.60,295.10 407.20,296.50 408.80,297.40C410.40,298.30 412.00,299.00 413.60,299.20C415.20,299.40 416.80,299.10 418.40,298.60C420.00,298.10 421.70,296.80 423.20,296.20C424.70,295.60 426.20,294.93 427.40,295.00C428.60,295.07 429.40,295.78 430.40,296.60C431.40,297.42 432.32,298.60 433.40,299.90C434.48,301.20 435.75,303.07 436.90,304.40C438.05,305.73 439.17,307.10 440.30,307.90C441.43,308.70 442.57,309.30 443.70,309.20C444.83,309.10 445.95,308.38 447.10,307.30C448.25,306.22 449.45,304.32 450.60,302.70C451.75,301.08 452.95,299.12 454.00,297.60C455.05,296.08 455.92,294.55 456.90,293.60C457.88,292.65 458.87,291.82 459.90,291.90C460.93,291.98 462.18,292.97 463.10,294.10C464.02,295.23 464.67,297.15 465.40,298.70C466.13,300.25 466.80,301.95 467.50,303.40C468.20,304.85 468.85,306.00 469.60,307.40C470.35,308.80 471.20,310.50 472.00,311.80C472.80,313.10 474.00,314.63 474.40,315.20" stroke="#ff00ff" stroke-width="1.3" stroke-dasharray="1.1 1.25"/>
<path d="M73.00,320.50C73.50,320.53 75.00,320.64 75.99,320.69C76.99,320.74 77.99,320.79 78.99,320.83C79.99,320.87 80.99,320.90 81.99,320.92C82.99,320.94 83.99,320.95 84.99,320.96C85.99,320.96 86.99,320.96 87.99,320.95C88.99,320.94 89.99,320.92 90.99,320.90C91.99,320.87 92.99,320.84 93.99,320.80C94.99,320.76 95.99,320.71 96.99,320.66C97.99,320.61 98.98,320.55 99.98,320.48C100.98,320.42 101.98,320.34 102.97,320.27C103.97,320.19 104.97,320.10 105.96,320.01C106.96,319.92 107.96,319.83 108.95,319.73C109.94,319.63 110.94,319.52 111.93,319.41C112.93,319.29 113.92,319.18 114.91,319.06C115.91,318.93 116.90,318.81 117.89,318.68C118.88,318.55 119.87,318.41 120.86,318.27C121.85,318.13 122.84,317.99 123.83,317.84C124.82,317.69 125.81,317.54 126.80,317.39C127.79,317.23 128.77,317.07 129.76,316.91C130.75,316.75 131.73,316.59 132.72,316.42C133.70,316.25 134.69,316.08 135.68,315.91C136.66,315.73 137.64,315.56 138.63,315.38C139.61,315.20 140.60,315.02 141.58,314.84C142.56,314.66 143.55,314.47 144.53,314.29C145.51,314.10 146.49,313.91 147.48,313.73C148.46,313.54 149.44,313.35 150.42,313.15C151.40,312.96 152.39,312.77 153.37,312.58C154.35,312.39 155.33,312.19 156.31,312.00C157.29,311.80 158.27,311.61 159.25,311.41C160.23,311.22 161.22,311.02 162.20,310.83C163.18,310.63 164.16,310.44 165.14,310.25C166.12,310.05 167.10,309.86 168.08,309.66C169.06,309.47 170.05,309.28 171.03,309.09C172.01,308.90 172.99,308.71 173.97,308.52C174.95,308.33 175.94,308.14 176.92,307.95C177.90,307.77 178.89,307.58 179.87,307.40C180.85,307.22 181.84,307.04 182.82,306.86C183.80,306.68 184.79,306.51 185.77,306.33C186.76,306.16 187.74,305.99 188.73,305.82C189.72,305.66 190.70,305.49 191.69,305.33C192.68,305.17 193.66,305.01 194.65,304.85C195.64,304.70 196.63,304.55 197.62,304.40C198.61,304.25 199.60,304.11 200.59,303.97C201.58,303.83 202.57,303.69 203.56,303.56C204.55,303.43 205.54,303.31 206.54,303.18C207.53,303.06 208.52,302.95 209.52,302.83C210.51,302.72 211.50,302.62 212.50,302.52C213.49,302.41 214.49,302.32 215.49,302.23C216.48,302.14 217.48,302.05 218.48,301.98C219.47,301.90 220.47,301.83 221.47,301.76C222.47,301.70 223.46,301.64 224.46,301.58C225.46,301.53 226.46,301.48 227.46,301.44C228.46,301.40 229.46,301.36 230.46,301.33C231.46,301.30 232.46,301.27 233.46,301.25C234.46,301.23 235.46,301.22 236.46,301.21C237.46,301.20 238.46,301.19 239.46,301.19C240.46,301.19 241.46,301.19 242.46,301.20C243.46,301.21 244.46,301.22 245.46,301.24C246.46,301.26 247.46,301.28 248.46,301.30C249.46,301.33 250.46,301.36 251.46,301.39C252.46,301.42 253.46,301.46 254.45,301.50C255.45,301.54 256.45,301.59 257.45,301.63C258.45,301.68 259.45,301.73 260.45,301.78C261.45,301.84 262.45,301.89 263.44,301.95C264.44,302.01 265.44,302.07 266.44,302.14C267.44,302.20 268.43,302.27 269.43,302.34C270.43,302.41 271.43,302.48 272.43,302.55C273.42,302.63 274.42,302.70 275.42,302.78C276.41,302.86 277.41,302.94 278.41,303.02C279.40,303.10 280.40,303.18 281.40,303.27C282.39,303.35 283.39,303.44 284.39,303.52C285.38,303.61 286.38,303.70 287.38,303.79C288.37,303.88 289.37,303.97 290.36,304.06C291.36,304.15 292.36,304.24 293.35,304.33C294.35,304.42 295.34,304.51 296.34,304.61C297.34,304.70 298.33,304.79 299.33,304.89C300.32,304.98 301.32,305.07 302.31,305.17C303.31,305.26 304.31,305.35 305.30,305.44C306.30,305.54 307.29,305.63 308.29,305.72C309.28,305.81 310.28,305.90 311.28,305.99C312.27,306.08 313.27,306.17 314.27,306.26C315.26,306.35 316.26,306.43 317.25,306.52C318.25,306.61 319.25,306.69 320.24,306.77C321.24,306.86 322.24,306.94 323.23,307.02C324.23,307.10 325.23,307.18 326.22,307.26C327.22,307.34 328.22,307.41 329.22,307.49C330.21,307.57 331.21,307.64 332.21,307.72C333.21,307.79 334.20,307.87 335.20,307.94C336.20,308.02 337.19,308.09 338.19,308.16C339.19,308.23 340.19,308.31 341.18,308.38C342.18,308.45 343.18,308.52 344.18,308.59C345.17,308.66 346.17,308.74 347.17,308.81C348.17,308.88 349.17,308.95 350.16,309.02C351.16,309.09 352.16,309.16 353.16,309.23C354.15,309.30 355.15,309.37 356.15,309.45C357.15,309.52 358.14,309.59 359.14,309.66C360.14,309.73 361.14,309.81 362.13,309.88C363.13,309.95 364.13,310.03 365.13,310.10C366.12,310.18 367.12,310.25 368.12,310.33C369.11,310.41 370.11,310.48 371.11,310.56C372.11,310.64 373.10,310.72 374.10,310.80C375.10,310.88 376.09,310.96 377.09,311.04C378.09,311.12 379.08,311.21 380.08,311.29C381.08,311.38 382.07,311.46 383.07,311.55C384.06,311.64 385.06,311.73 386.06,311.82C387.05,311.91 388.05,312.01 389.04,312.10C390.04,312.19 391.04,312.29 392.03,312.39C393.03,312.49 394.02,312.59 395.02,312.69C396.01,312.79 396.50,312.90 398.00,313.00C399.50,313.10 402.00,313.32 404.00,313.30C406.00,313.28 408.40,312.88 410.00,312.90C411.60,312.92 412.20,313.08 413.60,313.40C415.00,313.72 416.80,314.37 418.40,314.80C420.00,315.23 421.60,315.90 423.20,316.00C424.80,316.10 426.87,315.57 428.00,315.40C429.13,315.23 428.90,314.92 430.00,315.00C431.10,315.08 433.27,315.38 434.60,315.90C435.93,316.42 436.87,317.63 438.00,318.10C439.13,318.57 440.07,318.88 441.40,318.70C442.73,318.52 444.67,317.62 446.00,317.00C447.33,316.38 448.25,315.42 449.40,315.00C450.55,314.58 451.85,314.27 452.90,314.50C453.95,314.73 454.75,315.70 455.70,316.40C456.65,317.10 457.55,318.32 458.60,318.70C459.65,319.08 460.95,319.08 462.00,318.70C463.05,318.32 463.95,317.17 464.90,316.40C465.85,315.63 466.67,314.57 467.70,314.10C468.73,313.63 469.87,313.78 471.10,313.60C472.33,313.42 474.43,313.10 475.10,313.00" stroke="#00ffff" stroke-width="1.3" stroke-dasharray="3.9 1.3 0.6 1.2" transform="translate(0,0.35)"/>
<path d="M73.00,320.50C73.50,320.53 75.00,320.64 75.99,320.69C76.99,320.74 77.99,320.79 78.99,320.83C79.99,320.87 80.99,320.90 81.99,320.92C82.99,320.94 83.99,320.95 84.99,320.96C85.99,320.96 86.99,320.96 87.99,320.95C88.99,320.94 89.99,320.92 90.99,320.90C91.99,320.87 92.99,320.84 93.99,320.80C94.99,320.76 95.99,320.71 96.99,320.66C97.99,320.61 98.98,320.55 99.98,320.48C100.98,320.42 101.98,320.34 102.97,320.27C103.97,320.19 104.97,320.10 105.96,320.01C106.96,319.92 107.96,319.83 108.95,319.73C109.94,319.63 110.94,319.52 111.93,319.41C112.93,319.29 113.92,319.18 114.91,319.06C115.91,318.93 116.90,318.81 117.89,318.68C118.88,318.55 119.87,318.41 120.86,318.27C121.85,318.13 122.84,317.99 123.83,317.84C124.82,317.69 125.81,317.54 126.80,317.39C127.79,317.23 128.77,317.07 129.76,316.91C130.75,316.75 131.73,316.59 132.72,316.42C133.70,316.25 134.69,316.08 135.68,315.91C136.66,315.73 137.64,315.56 138.63,315.38C139.61,315.20 140.60,315.02 141.58,314.84C142.56,314.66 143.55,314.47 144.53,314.29C145.51,314.10 146.49,313.91 147.48,313.73C148.46,313.54 149.44,313.35 150.42,313.15C151.40,312.96 152.39,312.77 153.37,312.58C154.35,312.39 155.33,312.19 156.31,312.00C157.29,311.80 158.27,311.61 159.25,311.41C160.23,311.22 161.22,311.02 162.20,310.83C163.18,310.63 164.16,310.44 165.14,310.25C166.12,310.05 167.10,309.86 168.08,309.66C169.06,309.47 170.05,309.28 171.03,309.09C172.01,308.90 172.99,308.71 173.97,308.52C174.95,308.33 175.94,308.14 176.92,307.95C177.90,307.77 178.89,307.58 179.87,307.40C180.85,307.22 181.84,307.04 182.82,306.86C183.80,306.68 184.79,306.51 185.77,306.33C186.76,306.16 187.74,305.99 188.73,305.82C189.72,305.66 190.70,305.49 191.69,305.33C192.68,305.17 193.66,305.01 194.65,304.85C195.64,304.70 196.63,304.55 197.62,304.40C198.61,304.25 199.60,304.11 200.59,303.97C201.58,303.83 202.57,303.69 203.56,303.56C204.55,303.43 205.54,303.31 206.54,303.18C207.53,303.06 208.52,302.95 209.52,302.83C210.51,302.72 211.50,302.62 212.50,302.52C213.49,302.41 214.49,302.32 215.49,302.23C216.48,302.14 217.48,302.05 218.48,301.98C219.47,301.90 220.47,301.83 221.47,301.76C222.47,301.70 223.46,301.64 224.46,301.58C225.46,301.53 226.46,301.48 227.46,301.44C228.46,301.40 229.46,301.36 230.46,301.33C231.46,301.30 232.46,301.27 233.46,301.25C234.46,301.23 235.46,301.22 236.46,301.21C237.46,301.20 238.46,301.19 239.46,301.19C240.46,301.19 241.46,301.19 242.46,301.20C243.46,301.21 244.46,301.22 245.46,301.24C246.46,301.26 247.46,301.28 248.46,301.30C249.46,301.33 250.46,301.36 251.46,301.39C252.46,301.42 253.46,301.46 254.45,301.50C255.45,301.54 256.45,301.59 257.45,301.63C258.45,301.68 259.45,301.73 260.45,301.78C261.45,301.84 262.45,301.89 263.44,301.95C264.44,302.01 265.44,302.07 266.44,302.14C267.44,302.20 268.43,302.27 269.43,302.34C270.43,302.41 271.43,302.48 272.43,302.55C273.42,302.63 274.42,302.70 275.42,302.78C276.41,302.86 277.41,302.94 278.41,303.02C279.40,303.10 280.40,303.18 281.40,303.27C282.39,303.35 283.39,303.44 284.39,303.52C285.38,303.61 286.38,303.70 287.38,303.79C288.37,303.88 289.37,303.97 290.36,304.06C291.36,304.15 292.36,304.24 293.35,304.33C294.35,304.42 295.34,304.51 296.34,304.61C297.34,304.70 298.33,304.79 299.33,304.89C300.32,304.98 301.32,305.07 302.31,305.17C303.31,305.26 304.31,305.35 305.30,305.44C306.30,305.54 307.29,305.63 308.29,305.72C309.28,305.81 310.28,305.90 311.28,305.99C312.27,306.08 313.27,306.17 314.27,306.26C315.26,306.35 316.26,306.43 317.25,306.52C318.25,306.61 319.25,306.69 320.24,306.77C321.24,306.86 322.24,306.94 323.23,307.02C324.23,307.10 325.23,307.18 326.22,307.26C327.22,307.34 328.22,307.41 329.22,307.49C330.21,307.57 331.21,307.64 332.21,307.72C333.21,307.79 334.20,307.87 335.20,307.94C336.20,308.02 337.19,308.09 338.19,308.16C339.19,308.23 340.19,308.31 341.18,308.38C342.18,308.45 343.18,308.52 344.18,308.59C345.17,308.66 346.17,308.74 347.17,308.81C348.17,308.88 349.17,308.95 350.16,309.02C351.16,309.09 352.16,309.16 353.16,309.23C354.15,309.30 355.15,309.37 356.15,309.45C357.15,309.52 358.14,309.59 359.14,309.66C360.14,309.73 361.14,309.81 362.13,309.88C363.13,309.95 364.13,310.03 365.13,310.10C366.12,310.18 367.12,310.25 368.12,310.33C369.11,310.41 370.11,310.48 371.11,310.56C372.11,310.64 373.10,310.72 374.10,310.80C375.10,310.88 376.09,310.96 377.09,311.04C378.09,311.12 379.08,311.21 380.08,311.29C381.08,311.38 382.07,311.46 383.07,311.55C384.06,311.64 385.06,311.73 386.06,311.82C387.05,311.91 388.05,312.01 389.04,312.10C390.04,312.19 391.04,312.29 392.03,312.39C393.03,312.49 394.02,312.59 395.02,312.69C396.01,312.79 396.50,312.90 398.00,313.00C399.50,313.10 402.00,313.32 404.00,313.30C406.00,313.28 408.40,312.88 410.00,312.90C411.60,312.92 412.20,313.08 413.60,313.40C415.00,313.72 416.80,314.37 418.40,314.80C420.00,315.23 421.60,315.90 423.20,316.00C424.80,316.10 426.70,315.73 428.00,315.40C429.30,315.07 429.90,314.40 431.00,314.00C432.10,313.60 433.33,313.12 434.60,313.00C435.87,312.88 437.18,313.30 438.60,313.30C440.02,313.30 441.68,313.23 443.10,313.00C444.52,312.77 445.85,312.22 447.10,311.90C448.35,311.58 449.55,311.10 450.60,311.10C451.65,311.10 452.55,311.30 453.40,311.90C454.25,312.50 454.93,313.75 455.70,314.70C456.47,315.65 457.23,317.03 458.00,317.60C458.77,318.17 459.35,318.68 460.30,318.10C461.25,317.52 462.65,315.90 463.70,314.10C464.75,312.30 465.73,308.72 466.60,307.30C467.47,305.88 468.15,305.50 468.90,305.60C469.65,305.70 470.43,306.85 471.10,307.90C471.77,308.95 472.32,310.67 472.90,311.90C473.48,313.13 474.32,314.73 474.60,315.30" stroke="#000000" stroke-width="1.25" stroke-dasharray="1.8 1 1.8 2.4" stroke-dashoffset="3.2" transform="translate(0,-0.05)"/>
</g>
<g stroke="#000" stroke-width="1" fill="none">
<path d="M73.00,11.50H476.50V320.50H73.00Z"/>
<path d="M140.50,320.50v-4.50M140.50,11.50v4.50M207.50,320.50v-4.50M207.50,11.50v4.50M274.50,320.50v-4.50M274.50,11.50v4.50M342.50,320.50v-4.50M342.50,11.50v4.50M409.50,320.50v-4.50M409.50,11.50v4.50M73.00,269.50h4.50M476.50,269.50h-4.50M73.00,217.50h4.50M476.50,217.50h-4.50M73.00,166.50h4.50M476.50,166.50h-4.50M73.00,114.50h4.50M476.50,114.50h-4.50M73.00,63.50h4.50M476.50,63.50h-4.50"/>
</g>
<g>
<text x="67" y="324.00" text-anchor="end">0</text>
<text x="67" y="273.00" text-anchor="end">5e+06</text>
<text x="67" y="221.00" text-anchor="end">1e+07</text>
<text x="67" y="170.00" text-anchor="end">1.5e+07</text>
<text x="67" y="118.00" text-anchor="end">2e+07</text>
<text x="67" y="67.00" text-anchor="end">2.5e+07</text>
<text x="67" y="15.00" text-anchor="end">3e+07</text>
<text x="74.40" y="334.1" text-anchor="middle">0</text>
<text x="141.90" y="334.1" text-anchor="middle">3e+07</text>
<text x="208.90" y="334.1" text-anchor="middle">6e+07</text>
<text x="275.90" y="334.1" text-anchor="middle">9e+07</text>
<text x="343.90" y="334.1" text-anchor="middle">1.2e+08</text>
<text x="410.90" y="334.1" text-anchor="middle">1.5e+08</text>
<text x="477.90" y="334.1" text-anchor="middle">1.8e+08</text>
<text x="275" y="348" text-anchor="middle">Radius (cm)</text>
<text transform="translate(13.5,166.2) rotate(-90)" text-anchor="middle" style="font-size:10.15px">|Velocity| (cm/s)</text>
<text x="320.7" y="23.80">192^3; Monopole Gravity</text>
<text x="320.7" y="33.55">192^3; Poisson Gravity</text>
<text x="320.7" y="43.30">384^3; Monopole Gravity</text>
<text x="320.7" y="53.05">384^3; Poisson Gravity</text>
<text x="320.7" y="62.80">768^3; Monopole Gravity</text>
<text x="320.7" y="72.55">768^3; Poisson Gravity</text>
</g>
<g fill="none">
<path d="M437,20.90H465.0" stroke="#ff0000" stroke-width="1.4"/>
<path d="M437,30.65H465.0" stroke="#00ff00" stroke-width="1.4" stroke-dasharray="3 1.1"/>
<path d="M437,40.40H464.4" stroke="#0000ff" stroke-width="1.25" stroke-dasharray="1.75 1.7"/>
<path d="M437,50.15H464.4" stroke="#ff00ff" stroke-opacity="0.28" stroke-width="1.4"/>
<path d="M437,50.15H464.4" stroke="#ff00ff" stroke-width="1.3" stroke-dasharray="1.1 1.25"/>
<path d="M437,59.90H465.0" stroke="#00ffff" stroke-width="1.3" stroke-dasharray="3.9 1.3 0.6 1.2"/>
<path d="M437,69.65H465.0" stroke="#000000" stroke-width="1.25" stroke-dasharray="1.8 1 1.8 2.4"/>
</g>
</svg>
</body></html>
